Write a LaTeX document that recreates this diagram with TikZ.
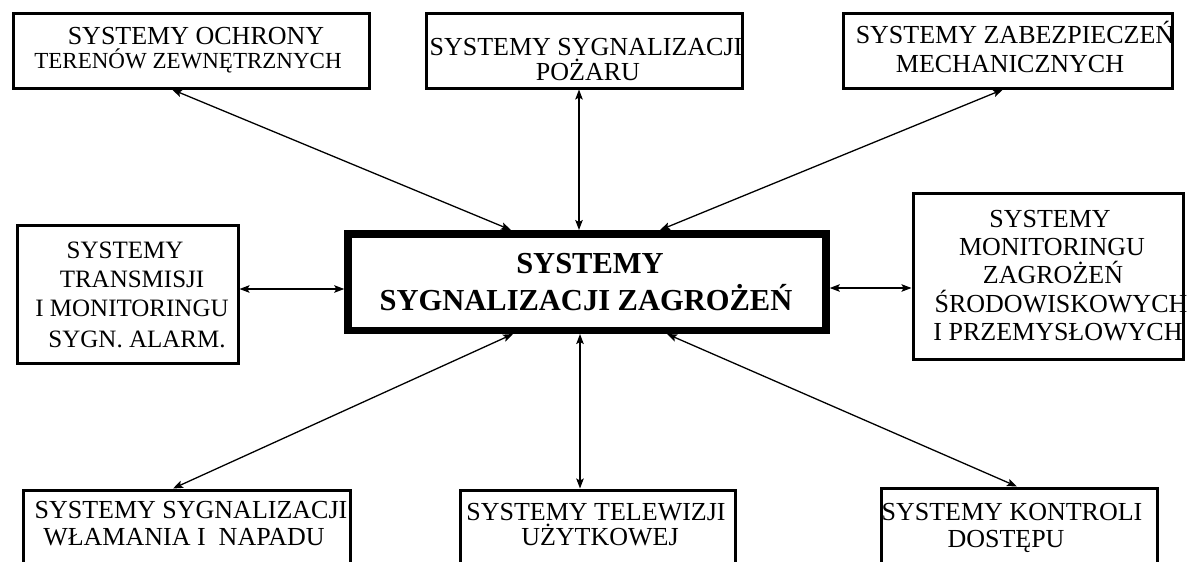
\documentclass[tikz,border=0pt]{standalone}
\usepackage{fontspec}
\setmainfont{Liberation Serif}
\usetikzlibrary{arrows.meta}
\tikzset{
  box/.style={draw, line width=3pt, inner sep=0pt},
  mainbox/.style={draw, line width=7.5pt, inner sep=0pt},
  txt/.style={anchor=base, inner sep=0pt, font=\fontsize{26}{28}\selectfont},
  txts/.style={anchor=base, inner sep=0pt, font=\fontsize{23}{25}\selectfont},
  txtm/.style={anchor=base, inner sep=0pt, font=\fontsize{25}{28}\selectfont},
  txtb/.style={anchor=base, inner sep=0pt, font=\fontsize{30.5}{34}\selectfont\bfseries},
  tip/.tip={Stealth[length=10pt,width=7.5pt,inset=2pt]},
  arr/.style={line width=1.3pt, tip-tip}
}
\begin{document}
\begin{tikzpicture}[x=1pt,y=-1pt]
\useasboundingbox (0,0) rectangle (1187,562);
\clip (0,0) rectangle (1187,562);
% boxes
\node[box, minimum width=356pt, minimum height=75pt] (tl) at (191,50.5) {};
\node[box, minimum width=316pt, minimum height=75pt] (tm) at (584,50.5) {};
\node[box, minimum width=329pt, minimum height=75pt] (tr) at (1007.5,50.5) {};
\node[box, minimum width=221pt, minimum height=138pt] (ml) at (127.5,294) {};
\node[mainbox, minimum width=478pt, minimum height=96.5pt] (c) at (587,282) {};
\node[box, minimum width=270pt, minimum height=166pt] (mr) at (1048,276) {};
\node[box, minimum width=327pt, minimum height=130pt] (bl) at (186.5,555) {};
\node[box, minimum width=275pt, minimum height=130pt] (bm) at (597.5,555) {};
\node[box, minimum width=276pt, minimum height=132pt] (br) at (1019,554) {};
% texts
\node[txt]  (tl1) at (196,45) {SYSTEMY OCHRONY};
\node[txts] (tl2) at (188,68) {TERENÓW ZEWNĘTRZNYCH};
\node[txt]  (tm1) at (586,55) {SYSTEMY SYGNALIZACJI};
\node[txt]  (tm2) at (588,80) {POŻARU};
\node[txt]  (tr1) at (1015,43) {SYSTEMY ZABEZPIECZEŃ};
\node[txt]  (tr2) at (1010,72) {MECHANICZNYCH};
\node[txtm] (ml1) at (125,258) {SYSTEMY};
\node[txtm] (ml2) at (132,287) {TRANSMISJI};
\node[txtm] (ml3) at (132,316) {I MONITORINGU};
\node[txtm] (ml4) at (137,347) {SYGN. ALARM.};
\node[txtb] (c1) at (590,273) {SYSTEMY};
\node[txtb] (c2) at (586,310) {SYGNALIZACJI ZAGROŻEŃ};
\node[txt]  (mr1) at (1050,227) {SYSTEMY};
\node[txt]  (mr2) at (1052,255) {MONITORINGU};
\node[txt]  (mr3) at (1053,283) {ZAGROŻEŃ};
\node[txt]  (mr4) at (1061,312) {ŚRODOWISKOWYCH};
\node[txt]  (mr5) at (1058,340) {I PRZEMYSŁOWYCH};
\node[txt]  (bl1) at (191,518) {SYSTEMY SYGNALIZACJI};
\node[txt]  (bl2) at (184,545) {WŁAMANIA I~ NAPADU};
\node[txt]  (bm1) at (596,520) {SYSTEMY TELEWIZJI};
\node[txt]  (bm2) at (600,545) {UŻYTKOWEJ};
\node[txt]  (br1) at (1012,520) {SYSTEMY KONTROLI};
\node[txt]  (br2) at (1006,547) {DOSTĘPU};
% connectors
\draw[arr] ([xshift=-19pt]tl.south) -- ([xshift=-76pt]c.north);
\draw[arr] ([xshift=-5pt]tm.south) -- ([xshift=-8pt]c.north);
\draw[arr] ([xshift=-4.5pt]tr.south) -- ([xshift=73pt]c.north);
\draw[arr] (ml.east |- 0,289) -- (c.west |- 0,289);
\draw[arr] (c.east |- 0,288) -- (mr.west |- 0,288);
\draw[arr] ([xshift=-13.5pt]bl.north) -- ([xshift=-74pt]c.south);
\draw[arr] ([xshift=-17.5pt]bm.north) -- ([xshift=-7pt]c.south);
\draw[arr] ([xshift=-2pt]br.north) -- ([xshift=80pt]c.south);
\end{tikzpicture}
\end{document}
